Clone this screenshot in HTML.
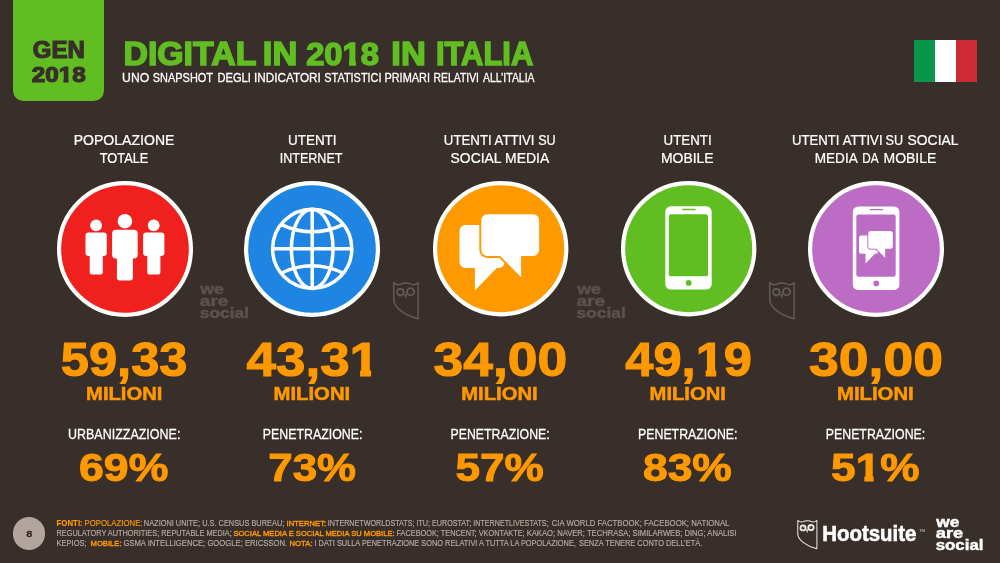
<!DOCTYPE html>
<html><head><meta charset="utf-8">
<style>
html,body{margin:0;padding:0;}
body{width:1000px;height:563px;background:#392f2a;overflow:hidden;position:relative;font-family:"Liberation Sans",sans-serif;}
.t{position:absolute;left:0;top:0;white-space:pre;transform-origin:0 0;}
#tx{position:absolute;left:0;top:0;width:1000px;height:563px;will-change:transform;}
svg{position:absolute;overflow:visible;}
</style></head><body>
<div style="position:absolute;left:12.7px;top:0;width:91.8px;height:100.5px;background:#60be22;border-radius:0 0 10.5px 10.5px;"></div>
<div style="position:absolute;left:913.5px;top:40px;width:63.5px;height:42.2px;background:linear-gradient(90deg,#0a9648 0,#0a9648 33.2%,#fff 33.2%,#fff 67.2%,#cf2b37 67.2%,#cf2b37 100%);"></div>
<div style="position:absolute;left:12.8px;top:516.9px;width:32.7px;height:32.7px;border-radius:50%;background:#b1a59d;"></div>

<!-- people -->
<svg style="left:56.7px;top:181.4px" width="136" height="136" viewBox="0 0 136 136">
<circle cx="68" cy="68" r="65.9" fill="#f0201e" stroke="#fff" stroke-width="4.2"/>
<g fill="#fff">
<circle cx="39.1" cy="44.3" r="5.9"/><rect x="28.5" y="51.6" width="21.3" height="23.3" rx="3.2"/><rect x="32.7" y="60" width="13.1" height="33.6" rx="2.6"/>
<circle cx="96.7" cy="44.3" r="5.9"/><rect x="86.1" y="51.6" width="21.3" height="23.3" rx="3.2"/><rect x="90.3" y="60" width="13.1" height="33.6" rx="2.6"/>
<circle cx="67.9" cy="40.2" r="7.3"/><rect x="55.1" y="48.7" width="25.6" height="28.8" rx="3.8"/><rect x="59.9" y="60" width="16" height="39.4" rx="3"/>
</g></svg>

<!-- globe -->
<svg style="left:243.8px;top:181.4px" width="136" height="136" viewBox="0 0 136 136">
<circle cx="68" cy="68" r="65.9" fill="#1e86e2" stroke="#fff" stroke-width="4.2"/>
<g fill="none" stroke="#fff" stroke-width="3.5" transform="translate(68.2,67.8)">
<circle cx="0" cy="0" r="39.6"/>
<ellipse cx="0" cy="0" rx="20.8" ry="39.6"/>
<path d="M0,-39.6V39.6M-39.6,0H39.6"/>
<path d="M-31.5,-24.5Q0,-9.5 31.5,-24.5"/>
<path d="M-31.5,24.5Q0,9.5 31.5,24.5"/>
</g></svg>

<!-- chat -->
<svg style="left:432.6px;top:181.3px" width="135.4" height="135.4" viewBox="0 0 136 136">
<circle cx="68" cy="68" r="65.9" fill="#ff9900" stroke="#fff" stroke-width="4.2"/>
<g id="chat">
<path fill="#fff" d="M32.6,44.1H66a6,6 0 0 1 6,6V81.3a6,6 0 0 1 -6,6H64L42.1,109.9V87.3H32.6a6,6 0 0 1 -6,-6V50.1a6,6 0 0 1 6,-6Z"/>
<path fill="#fff" stroke="#ff9900" stroke-width="4" paint-order="stroke" d="M54.5,33.4H100.6a6,6 0 0 1 6,6V69.3a6,6 0 0 1 -6,6H88.5V96.6L67.4,75.3H54.5a6,6 0 0 1 -6,-6V39.4a6,6 0 0 1 6,-6Z"/>
</g></svg>

<!-- phone -->
<svg style="left:620.6px;top:181.3px" width="135.4" height="135.4" viewBox="0 0 136 136">
<circle cx="68" cy="68" r="65.9" fill="#60be22" stroke="#fff" stroke-width="4.2"/>
<rect x="44.5" y="25.4" width="46.6" height="83.7" rx="5.5" fill="#fff"/>
<rect x="48" y="33.4" width="39.4" height="62.4" rx="2.2" fill="#60be22"/>
<rect x="61.3" y="27.9" width="13.8" height="1.4" rx="0.7" fill="#60be22"/>
<circle cx="68" cy="102.4" r="2.9" fill="#60be22"/>
</svg>

<!-- phone + chat -->
<svg style="left:807.5px;top:181px" width="136" height="136" viewBox="0 0 136 136">
<circle cx="68" cy="68" r="65.9" fill="#bd6cc6" stroke="#fff" stroke-width="4.2"/>
<rect x="44.8" y="25.4" width="46.6" height="83.7" rx="5.5" fill="#fff"/>
<rect x="48.3" y="33.4" width="39.4" height="62.4" rx="2.2" fill="#bd6cc6"/>
<rect x="61.6" y="27.9" width="13.8" height="1.4" rx="0.7" fill="#bd6cc6"/>
<circle cx="68.3" cy="102.4" r="2.9" fill="#bd6cc6"/>
<g transform="translate(39.8,36) scale(0.422)">
<path fill="#fff" d="M32.6,44.1H66a6,6 0 0 1 6,6V81.3a6,6 0 0 1 -6,6H64L42.1,109.9V87.3H32.6a6,6 0 0 1 -6,-6V50.1a6,6 0 0 1 6,-6Z"/>
<path fill="#fff" stroke="#bd6cc6" stroke-width="4.5" paint-order="stroke" d="M54.5,33.4H100.6a6,6 0 0 1 6,6V69.3a6,6 0 0 1 -6,6H88.5V96.6L67.4,75.3H54.5a6,6 0 0 1 -6,-6V39.4a6,6 0 0 1 6,-6Z"/>
</g></svg>

<!-- owl watermarks -->
<svg style="left:393px;top:282px" width="25.9" height="37.4" viewBox="0 0 26 38"><g fill="none" stroke="#625a55" stroke-width="1.5" stroke-linejoin="round">
<path d="M0.6,0.6Q3.2,2.9 6.2,2.7Q13,-0.6 19.8,2.7Q22.8,2.9 25.4,0.6V37.3C11,33.8 1.5,25.5 0.6,19Z"/>
<circle cx="7.4" cy="10.3" r="3.4" stroke-width="1.9"/><circle cx="17.7" cy="9.8" r="3.6" stroke-width="1.9"/>
<path d="M11.7,12.4L12.8,16.2L13.9,12.4Z" fill="#625a55" stroke-width="0.6"/>
</g></svg>
<svg style="left:769.2px;top:282px" width="25.9" height="37.4" viewBox="0 0 26 38"><g fill="none" stroke="#625a55" stroke-width="1.5" stroke-linejoin="round">
<path d="M0.6,0.6Q3.2,2.9 6.2,2.7Q13,-0.6 19.8,2.7Q22.8,2.9 25.4,0.6V37.3C11,33.8 1.5,25.5 0.6,19Z"/>
<circle cx="7.4" cy="10.3" r="3.4" stroke-width="1.9"/><circle cx="17.7" cy="9.8" r="3.6" stroke-width="1.9"/>
<path d="M11.7,12.4L12.8,16.2L13.9,12.4Z" fill="#625a55" stroke-width="0.6"/>
</g></svg>
<!-- owl logo -->
<svg style="left:796.6px;top:519.8px" width="20.7" height="29.3" viewBox="0 0 26 38"><g fill="none" stroke="#f0ebe7" stroke-width="1.3" stroke-linejoin="round">
<path d="M0.6,0.6Q3.2,2.9 6.2,2.7Q13,-0.6 19.8,2.7Q22.8,2.9 25.4,0.6V37.3C11,33.8 1.5,25.5 0.6,19Z"/>
<circle cx="7.4" cy="10.3" r="3.3" stroke-width="2.3"/><circle cx="17.7" cy="9.8" r="3.5" stroke-width="2.3"/><circle cx="8.6" cy="9.2" r="0.9" fill="#f0ebe7" stroke="none"/><circle cx="16.4" cy="8.7" r="0.9" fill="#f0ebe7" stroke="none"/>
<path d="M11.7,12.4L12.8,16.2L13.9,12.4Z" fill="#f0ebe7" stroke-width="0.6"/>
</g></svg>

<div id="tx">
<div class="t" style="font-size:24px;line-height:24px;color:#392f2a;font-weight:bold;-webkit-text-stroke:1.3px;transform:translate(32.750px,39.112px) scale(0.9999,0.9593);">GEN</div>
<div class="t" style="font-size:24px;line-height:24px;color:#392f2a;font-weight:bold;-webkit-text-stroke:1.3px;transform:translate(31.700px,63.312px) scale(1.0096,0.9469);">20<span style="display:inline-block;clip-path:polygon(-1em -1em,2em -1em,2em 0.66em,0.406em 0.66em,0.406em 2em,0.198em 2em,0.198em 0.66em,-1em 0.66em);">1</span>8</div>
<div class="t" style="font-size:34px;line-height:34px;color:#60be22;font-weight:bold;-webkit-text-stroke:1.6px;transform:translate(123.450px,37.002px) scale(0.9955,0.9742);">DIGITAL</div>
<div class="t" style="font-size:34px;line-height:34px;color:#60be22;font-weight:bold;-webkit-text-stroke:1.6px;transform:translate(262.850px,37.002px) scale(1.0127,0.9742);">IN</div>
<div class="t" style="font-size:34px;line-height:34px;color:#60be22;font-weight:bold;-webkit-text-stroke:1.6px;transform:translate(306.150px,37.502px) scale(0.9623,0.9459);">20<span style="display:inline-block;clip-path:polygon(-1em -1em,2em -1em,2em 0.66em,0.406em 0.66em,0.406em 2em,0.198em 2em,0.198em 0.66em,-1em 0.66em);">1</span>8</div>
<div class="t" style="font-size:34px;line-height:34px;color:#60be22;font-weight:bold;-webkit-text-stroke:1.6px;transform:translate(391.350px,37.002px) scale(1.0127,0.9742);">IN</div>
<div class="t" style="font-size:34px;line-height:34px;color:#60be22;font-weight:bold;-webkit-text-stroke:1.6px;transform:translate(435.950px,37.002px) scale(0.9088,0.9742);">ITALIA</div>
<div class="t" style="font-size:13px;line-height:13px;color:#ffffff;font-weight:normal;-webkit-text-stroke:0.3px;transform:translate(122.100px,71.316px) scale(0.9380,0.9669);">UNO</div>
<div class="t" style="font-size:13px;line-height:13px;color:#ffffff;font-weight:normal;-webkit-text-stroke:0.3px;transform:translate(152.800px,71.316px) scale(0.8424,0.9669);">SNAPSHOT</div>
<div class="t" style="font-size:13px;line-height:13px;color:#ffffff;font-weight:normal;-webkit-text-stroke:0.3px;transform:translate(217.400px,71.316px) scale(0.8574,0.9669);">DEGLI</div>
<div class="t" style="font-size:13px;line-height:13px;color:#ffffff;font-weight:normal;-webkit-text-stroke:0.3px;transform:translate(253.950px,71.316px) scale(0.9057,0.9669);">INDICATORI</div>
<div class="t" style="font-size:13px;line-height:13px;color:#ffffff;font-weight:normal;-webkit-text-stroke:0.3px;transform:translate(324.300px,71.316px) scale(0.8395,0.9669);">STATISTICI</div>
<div class="t" style="font-size:13px;line-height:13px;color:#ffffff;font-weight:normal;-webkit-text-stroke:0.3px;transform:translate(384.400px,71.316px) scale(0.8425,0.9669);">PRIMARI</div>
<div class="t" style="font-size:13px;line-height:13px;color:#ffffff;font-weight:normal;-webkit-text-stroke:0.3px;transform:translate(433.550px,71.316px) scale(0.7989,0.9669);">RELATIVI</div>
<div class="t" style="font-size:13px;line-height:13px;color:#ffffff;font-weight:normal;-webkit-text-stroke:0.3px;transform:translate(483.000px,71.316px) scale(0.8047,0.9669);">ALL’ITALIA</div>
<div class="t" style="font-size:15px;line-height:15px;color:#ffffff;font-weight:normal;-webkit-text-stroke:0.25px;transform:translate(73.650px,132.110px) scale(0.9370,0.9777);">POPOLAZIONE</div>
<div class="t" style="font-size:15px;line-height:15px;color:#ffffff;font-weight:normal;-webkit-text-stroke:0.25px;transform:translate(99.750px,150.429px) scale(0.8529,0.9639);">TOTALE</div>
<div class="t" style="font-size:15px;line-height:15px;color:#ffffff;font-weight:normal;-webkit-text-stroke:0.25px;transform:translate(288.000px,132.110px) scale(0.8968,0.9777);">UTENTI</div>
<div class="t" style="font-size:15px;line-height:15px;color:#ffffff;font-weight:normal;-webkit-text-stroke:0.25px;transform:translate(279.650px,150.429px) scale(0.8379,0.9639);">INTERNET</div>
<div class="t" style="font-size:15px;line-height:15px;color:#ffffff;font-weight:normal;-webkit-text-stroke:0.25px;transform:translate(443.800px,132.110px) scale(0.8842,0.9777);">UTENTI</div>
<div class="t" style="font-size:15px;line-height:15px;color:#ffffff;font-weight:normal;-webkit-text-stroke:0.25px;transform:translate(494.600px,132.110px) scale(0.8754,0.9777);">ATTIVI</div>
<div class="t" style="font-size:15px;line-height:15px;color:#ffffff;font-weight:normal;-webkit-text-stroke:0.25px;transform:translate(538.150px,132.110px) scale(0.8395,0.9777);">SU</div>
<div class="t" style="font-size:15px;line-height:15px;color:#ffffff;font-weight:normal;-webkit-text-stroke:0.25px;transform:translate(450.550px,150.429px) scale(0.9266,0.9639);">SOCIAL</div>
<div class="t" style="font-size:15px;line-height:15px;color:#ffffff;font-weight:normal;-webkit-text-stroke:0.25px;transform:translate(505.050px,150.429px) scale(0.9318,0.9639);">MEDIA</div>
<div class="t" style="font-size:15px;line-height:15px;color:#ffffff;font-weight:normal;-webkit-text-stroke:0.25px;transform:translate(663.600px,132.110px) scale(0.8861,0.9777);">UTENTI</div>
<div class="t" style="font-size:15px;line-height:15px;color:#ffffff;font-weight:normal;-webkit-text-stroke:0.25px;transform:translate(661.000px,150.429px) scale(0.9276,0.9639);">MOBILE</div>
<div class="t" style="font-size:15px;line-height:15px;color:#ffffff;font-weight:normal;-webkit-text-stroke:0.25px;transform:translate(791.950px,132.110px) scale(0.8775,0.9777);">UTENTI</div>
<div class="t" style="font-size:15px;line-height:15px;color:#ffffff;font-weight:normal;-webkit-text-stroke:0.25px;transform:translate(842.650px,132.110px) scale(0.8754,0.9777);">ATTIVI</div>
<div class="t" style="font-size:15px;line-height:15px;color:#ffffff;font-weight:normal;-webkit-text-stroke:0.25px;transform:translate(885.500px,132.110px) scale(0.8414,0.9777);">SU</div>
<div class="t" style="font-size:15px;line-height:15px;color:#ffffff;font-weight:normal;-webkit-text-stroke:0.25px;transform:translate(907.550px,132.110px) scale(0.9258,0.9777);">SOCIAL</div>
<div class="t" style="font-size:15px;line-height:15px;color:#ffffff;font-weight:normal;-webkit-text-stroke:0.25px;transform:translate(814.650px,150.429px) scale(0.9070,0.9639);">MEDIA</div>
<div class="t" style="font-size:15px;line-height:15px;color:#ffffff;font-weight:normal;-webkit-text-stroke:0.25px;transform:translate(862.250px,150.429px) scale(0.7823,0.9639);">DA</div>
<div class="t" style="font-size:15px;line-height:15px;color:#ffffff;font-weight:normal;-webkit-text-stroke:0.25px;transform:translate(883.500px,150.429px) scale(0.9322,0.9639);">MOBILE</div>
<div class="t" style="font-size:49px;line-height:49px;color:#ff9900;font-weight:bold;-webkit-text-stroke:1.1px;transform:translate(60.800px,336.250px) scale(1.0329,0.9767);">59,33</div>
<div class="t" style="font-size:49px;line-height:49px;color:#ff9900;font-weight:bold;-webkit-text-stroke:1.1px;transform:translate(246.500px,336.250px) scale(1.0811,0.9767);">43,3<span style="display:inline-block;clip-path:polygon(-1em -1em,2em -1em,2em 0.66em,0.406em 0.66em,0.406em 2em,0.198em 2em,0.198em 0.66em,-1em 0.66em);">1</span></div>
<div class="t" style="font-size:49px;line-height:49px;color:#ff9900;font-weight:bold;-webkit-text-stroke:1.1px;transform:translate(433.550px,336.250px) scale(1.0909,0.9767);">34,00</div>
<div class="t" style="font-size:49px;line-height:49px;color:#ff9900;font-weight:bold;-webkit-text-stroke:1.1px;transform:translate(625.250px,336.250px) scale(1.0335,0.9767);">49,<span style="display:inline-block;clip-path:polygon(-1em -1em,2em -1em,2em 0.66em,0.406em 0.66em,0.406em 2em,0.198em 2em,0.198em 0.66em,-1em 0.66em);">1</span>9</div>
<div class="t" style="font-size:49px;line-height:49px;color:#ff9900;font-weight:bold;-webkit-text-stroke:1.1px;transform:translate(809.000px,336.250px) scale(1.0930,0.9767);">30,00</div>
<div class="t" style="font-size:18px;line-height:18px;color:#ff9900;font-weight:bold;-webkit-text-stroke:0.5px;transform:translate(86.050px,384.730px) scale(1.1236,1.0127);">MILIONI</div>
<div class="t" style="font-size:18px;line-height:18px;color:#ff9900;font-weight:bold;-webkit-text-stroke:0.5px;transform:translate(273.500px,384.730px) scale(1.1278,1.0127);">MILIONI</div>
<div class="t" style="font-size:18px;line-height:18px;color:#ff9900;font-weight:bold;-webkit-text-stroke:0.5px;transform:translate(461.250px,384.730px) scale(1.1247,1.0127);">MILIONI</div>
<div class="t" style="font-size:18px;line-height:18px;color:#ff9900;font-weight:bold;-webkit-text-stroke:0.5px;transform:translate(649.550px,384.730px) scale(1.1236,1.0127);">MILIONI</div>
<div class="t" style="font-size:18px;line-height:18px;color:#ff9900;font-weight:bold;-webkit-text-stroke:0.5px;transform:translate(837.000px,384.730px) scale(1.1278,1.0127);">MILIONI</div>
<div class="t" style="font-size:14px;line-height:14px;color:#ffffff;font-weight:normal;-webkit-text-stroke:0.25px;transform:translate(68.000px,426.666px) scale(0.8916,1.0278);">URBANIZZAZIONE:</div>
<div class="t" style="font-size:14px;line-height:14px;color:#ffffff;font-weight:normal;-webkit-text-stroke:0.25px;transform:translate(262.800px,426.666px) scale(0.8832,1.0278);">PENETRAZIONE:</div>
<div class="t" style="font-size:14px;line-height:14px;color:#ffffff;font-weight:normal;-webkit-text-stroke:0.25px;transform:translate(450.450px,426.666px) scale(0.8799,1.0278);">PENETRAZIONE:</div>
<div class="t" style="font-size:14px;line-height:14px;color:#ffffff;font-weight:normal;-webkit-text-stroke:0.25px;transform:translate(638.000px,426.666px) scale(0.8819,1.0278);">PENETRAZIONE:</div>
<div class="t" style="font-size:14px;line-height:14px;color:#ffffff;font-weight:normal;-webkit-text-stroke:0.25px;transform:translate(825.750px,426.666px) scale(0.8819,1.0278);">PENETRAZIONE:</div>
<div class="t" style="font-size:40px;line-height:40px;color:#ff9900;font-weight:bold;-webkit-text-stroke:1.0px;transform:translate(79.000px,448.366px) scale(1.1163,0.9696);">69%</div>
<div class="t" style="font-size:40px;line-height:40px;color:#ff9900;font-weight:bold;-webkit-text-stroke:1.0px;transform:translate(268.300px,448.366px) scale(1.0962,0.9696);">73%</div>
<div class="t" style="font-size:40px;line-height:40px;color:#ff9900;font-weight:bold;-webkit-text-stroke:1.0px;transform:translate(455.500px,448.366px) scale(1.1032,0.9696);">57%</div>
<div class="t" style="font-size:40px;line-height:40px;color:#ff9900;font-weight:bold;-webkit-text-stroke:1.0px;transform:translate(642.950px,448.366px) scale(1.1105,0.9696);">83%</div>
<div class="t" style="font-size:40px;line-height:40px;color:#ff9900;font-weight:bold;-webkit-text-stroke:1.0px;transform:translate(831.050px,448.366px) scale(1.1048,0.9696);">5<span style="display:inline-block;clip-path:polygon(-1em -1em,2em -1em,2em 0.66em,0.406em 0.66em,0.406em 2em,0.198em 2em,0.198em 0.66em,-1em 0.66em);">1</span>%</div>
<div class="t" style="font-size:10px;line-height:10px;color:#392f2a;font-weight:bold;-webkit-text-stroke:0.3px;transform:translate(26.200px,529.284px) scale(1.0983,0.9726);">8</div>
<div class="t" style="font-size:22px;line-height:22px;color:#ffffff;font-weight:bold;-webkit-text-stroke:0.6px;transform:translate(822.200px,523.518px) scale(0.9285,0.9746);">Hootsuite</div>
<div class="t" style="font-size:4px;line-height:4px;color:#cfc9c4;font-weight:normal;transform:translate(919.050px,528.739px) scale(1.0407,1.0475);">TM</div>
<div class="t" style="font-size:16px;line-height:16px;color:#5c524d;font-weight:bold;-webkit-text-stroke:0.5px;transform:translate(200.250px,281.907px) scale(1.1102,0.9330);">we</div>
<div class="t" style="font-size:16px;line-height:16px;color:#5c524d;font-weight:bold;-webkit-text-stroke:0.5px;transform:translate(199.750px,293.629px) scale(1.1942,0.9406);">are</div>
<div class="t" style="font-size:16px;line-height:16px;color:#5c524d;font-weight:bold;-webkit-text-stroke:0.5px;transform:translate(199.750px,305.779px) scale(1.0858,0.9406);">social</div>
<div class="t" style="font-size:16px;line-height:16px;color:#5c524d;font-weight:bold;-webkit-text-stroke:0.5px;transform:translate(577.200px,281.907px) scale(1.1101,0.9330);">we</div>
<div class="t" style="font-size:16px;line-height:16px;color:#5c524d;font-weight:bold;-webkit-text-stroke:0.5px;transform:translate(576.450px,293.629px) scale(1.1925,0.9406);">are</div>
<div class="t" style="font-size:16px;line-height:16px;color:#5c524d;font-weight:bold;-webkit-text-stroke:0.5px;transform:translate(576.450px,305.779px) scale(1.0862,0.9406);">social</div>
<div class="t" style="font-size:16px;line-height:16px;color:#ffffff;font-weight:bold;-webkit-text-stroke:0.5px;transform:translate(936.250px,514.970px) scale(1.0792,0.9166);">we</div>
<div class="t" style="font-size:16px;line-height:16px;color:#ffffff;font-weight:bold;-webkit-text-stroke:0.5px;transform:translate(935.750px,526.070px) scale(1.1467,0.9166);">are</div>
<div class="t" style="font-size:16px;line-height:16px;color:#ffffff;font-weight:bold;-webkit-text-stroke:0.5px;transform:translate(935.750px,537.920px) scale(1.0507,0.9166);">social</div>
<div class="t" style="font-size:8px;line-height:8px;color:#ff9900;font-weight:bold;-webkit-text-stroke:0.15px;transform:translate(56.500px,519.890px) scale(0.9831,1.0392);">FONTI:</div>
<div class="t" style="font-size:8px;line-height:8px;color:#ff9900;font-weight:normal;-webkit-text-stroke:0.15px;transform:translate(84.500px,519.890px) scale(0.9741,1.0392);">POPOLAZIONE:</div>
<div class="t" style="font-size:8px;line-height:8px;color:#b5aba3;font-weight:normal;-webkit-text-stroke:0.15px;transform:translate(143.850px,519.890px) scale(0.9237,1.0392);">NAZIONI UNITE; U.S. CENSUS BUREAU;</div>
<div class="t" style="font-size:8px;line-height:8px;color:#ff9900;font-weight:normal;-webkit-text-stroke:0.4px;transform:translate(286.500px,520.265px) scale(0.9579,0.9544);">INTERNET:</div>
<div class="t" style="font-size:8px;line-height:8px;color:#b5aba3;font-weight:normal;-webkit-text-stroke:0.15px;transform:translate(327.850px,519.890px) scale(0.8967,1.0392);">INTERNETWORLDSTATS; ITU; EUROSTAT; INTERNETLIVESTATS;</div>
<div class="t" style="font-size:8px;line-height:8px;color:#b5aba3;font-weight:normal;-webkit-text-stroke:0.15px;transform:translate(551.750px,519.890px) scale(0.9710,1.0392);">CIA WORLD FACTBOOK; FACEBOOK; NATIONAL</div>
<div class="t" style="font-size:8px;line-height:8px;color:#b5aba3;font-weight:normal;-webkit-text-stroke:0.15px;transform:translate(56.500px,529.890px) scale(0.9178,1.0392);">REGULATORY AUTHORITIES; REPUTABLE MEDIA;</div>
<div class="t" style="font-size:8px;line-height:8px;color:#ff9900;font-weight:normal;-webkit-text-stroke:0.4px;transform:translate(233.400px,530.265px) scale(0.9473,0.9544);">SOCIAL MEDIA E SOCIAL MEDIA SU MOBILE:</div>
<div class="t" style="font-size:8px;line-height:8px;color:#b5aba3;font-weight:normal;-webkit-text-stroke:0.15px;transform:translate(396.500px,529.890px) scale(0.9167,1.0392);">FACEBOOK; TENCENT; VKONTAKTE;</div>
<div class="t" style="font-size:8px;line-height:8px;color:#b5aba3;font-weight:normal;-webkit-text-stroke:0.15px;transform:translate(526.700px,529.890px) scale(0.9517,1.0392);">KAKAO; NAVER; TECHRASA; SIMILARWEB; DING; ANALISI</div>
<div class="t" style="font-size:8px;line-height:8px;color:#b5aba3;font-weight:normal;-webkit-text-stroke:0.15px;transform:translate(56.500px,539.890px) scale(0.9397,1.0392);">KEPIOS;</div>
<div class="t" style="font-size:8px;line-height:8px;color:#ff9900;font-weight:normal;-webkit-text-stroke:0.4px;transform:translate(90.500px,540.265px) scale(0.9568,0.9544);">MOBILE:</div>
<div class="t" style="font-size:8px;line-height:8px;color:#b5aba3;font-weight:normal;-webkit-text-stroke:0.15px;transform:translate(123.400px,539.890px) scale(0.9589,1.0392);">GSMA INTELLIGENCE; GOOGLE; ERICSSON.</div>
<div class="t" style="font-size:8px;line-height:8px;color:#ff9900;font-weight:normal;-webkit-text-stroke:0.4px;transform:translate(289.500px,540.265px) scale(0.9685,0.9544);">NOTA:</div>
<div class="t" style="font-size:8px;line-height:8px;color:#b5aba3;font-weight:normal;-webkit-text-stroke:0.15px;transform:translate(314.500px,539.890px) scale(0.9220,1.0392);">I DATI SULLA PENETRAZIONE SONO RELATIVI A TUTTA LA POPOLAZIONE,</div>
<div class="t" style="font-size:8px;line-height:8px;color:#b5aba3;font-weight:normal;-webkit-text-stroke:0.15px;transform:translate(578.950px,539.890px) scale(0.9263,1.0392);">SENZA TENERE CONTO DELL’ETÀ.</div>
</div>
</body></html>
